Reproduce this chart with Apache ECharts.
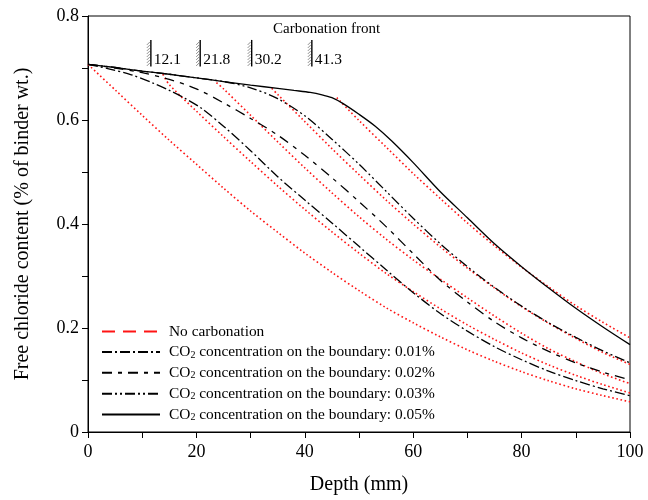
<!DOCTYPE html>
<html>
<head>
<meta charset="utf-8">
<script src="https://cdn.jsdelivr.net/npm/echarts@6/dist/echarts.min.js"></script>
<style>html,body{margin:0;padding:0;background:#fff}#c{width:648px;height:500px}</style>
</head>
<body>
<div id="c"></div>
<script>
// ---- data ----
const legendNames = ['No carbonation',
  'CO2 concentration on the boundary: 0.01%',
  'CO2 concentration on the boundary: 0.02%',
  'CO2 concentration on the boundary: 0.03%',
  'CO2 concentration on the boundary: 0.05%'];
const frontDepth = [11.6, 20.7, 30.2, 41.3];        // where the markers sit on the depth axis
const frontLabels = ['12.1', '21.8', '30.2', '41.3'];
const frontTitle = 'Carbonation front';
const xTicks = [0, 20, 40, 60, 80, 100];
const yTicks = [0, 0.2, 0.4, 0.6, 0.8];

// no-carbonation (red dotted) profiles
const r0X = [0,5,10,15,20,25,30,35,40,45,50,55,60,65,70,75,80,85,90,95,100];
const r0Y = [0.707,0.658,0.609,0.561,0.515,0.469,0.425,0.384,0.344,0.307,0.272,0.239,0.210,0.183,0.158,0.136,0.116,0.0985,0.083,0.070,0.058];
const r1X = [13.8,15,20,25,30,35,40,45,50,55,60,65,70,75,80,85,90,95,100];
const r1Y = [0.688,0.668,0.617,0.568,0.520,0.473,0.428,0.385,0.344,0.305,0.270,0.237,0.206,0.178,0.152,0.129,0.109,0.091,0.075];
const r2X = [23.7,25,30,35,40,45,50,55,60,65,70,75,80,85,90,95,100];
const r2Y = [0.672,0.660,0.609,0.558,0.508,0.460,0.414,0.371,0.331,0.294,0.258,0.223,0.190,0.160,0.135,0.112,0.093];
const r3X = [33.9,35,40,45,50,55,60,65,70,75,80,85,90,95,100];
const r3Y = [0.661,0.649,0.597,0.545,0.495,0.446,0.400,0.356,0.315,0.277,0.241,0.209,0.180,0.153,0.130];
const r4X = [45.9,50,55,60,65,70,75,80,85,90,95,100];
const r4Y = [0.643,0.599,0.548,0.497,0.449,0.402,0.358,0.317,0.279,0.243,0.211,0.181];

// carbonation profiles (black)
const b1X = [0,4,8,12,15,18,21,25,30,35,40,45,50,55,60,65,70,75,80,85,90,95,100];
const b1Y = [0.707,0.698,0.687,0.671,0.657,0.641,0.622,0.588,0.541,0.491,0.446,0.402,0.357,0.312,0.268,0.228,0.194,0.164,0.139,0.117,0.099,0.083,0.070];
const b2X = [0,5,10,15,20,25,30,35,40,45,50,55,60,65,70,75,80,85,90,95,100];
const b2Y = [0.707,0.700,0.691,0.678,0.660,0.633,0.603,0.571,0.532,0.489,0.443,0.395,0.343,0.292,0.250,0.212,0.181,0.155,0.133,0.115,0.100];
const b3X = [0,5,10,15,20,25,30,35,40,45,50,55,60,65,70,75,80,85,90,95,100];
const b3Y = [0.707,0.701,0.694,0.688,0.681,0.674,0.662,0.641,0.608,0.563,0.515,0.463,0.411,0.362,0.318,0.278,0.242,0.210,0.182,0.156,0.133];
const b4X = [0,5,10,15,20,25,30,35,38,41,43,45,47,50,53,56,60,65,70,75,80,85,90,95,100];
const b4Y = [0.707,0.701,0.694,0.688,0.681,0.674,0.667,0.661,0.657,0.653,0.649,0.643,0.632,0.611,0.588,0.560,0.518,0.462,0.412,0.362,0.318,0.277,0.238,0.202,0.168];

// ---- chart ----
const FONT = '"Liberation Serif", "Times New Roman", serif';
const pairs = (xs, ys) => xs.map((x, i) => [x, ys[i]]);
const RED = '#ff1414';
const redStyle = {color: RED, width: 1.6, type: [1.6, 2.6]};

function redSeries(name, xs, ys) {
  return {name, type: 'line', data: pairs(xs, ys), showSymbol: false, symbol: 'none',
    smooth: 0.3, lineStyle: redStyle, itemStyle: {color: RED}, z: 3, silent: true};
}
function blackSeries(name, xs, ys, dash) {
  return {name, type: 'line', data: pairs(xs, ys), showSymbol: false, symbol: 'none',
    smooth: 0.3, lineStyle: {color: '#000', width: 1.3, type: dash}, itemStyle: {color: '#000'}, z: 4, silent: true};
}

const chart = echarts.init(document.getElementById('c'), null, {renderer: 'canvas'});
chart.setOption({
  animation: false,
  backgroundColor: '#fff',
  grid: {left: 88, right: 18, top: 16, bottom: 67, show: true, borderColor: '#000', borderWidth: 1},
  xAxis: {
    type: 'value', min: 0, max: 100, interval: 10,
    name: 'Depth (mm)', nameLocation: 'middle', nameGap: 43,
    nameTextStyle: {fontFamily: FONT, fontSize: 20, color: '#000'},
    axisLine: {show: true, lineStyle: {color: '#000', width: 1}},
    axisTick: {show: true, length: 6, lineStyle: {color: '#000'}},
    axisLabel: {margin: 11, fontFamily: FONT, fontSize: 18, color: '#000',
      formatter: v => xTicks.includes(v) ? String(v) : ''},
    splitLine: {show: false}
  },
  yAxis: {
    type: 'value', min: 0, max: 0.8, interval: 0.1,
    name: 'Free chloride content (% of binder wt.)', nameLocation: 'middle', nameGap: 55,
    nameTextStyle: {fontFamily: FONT, fontSize: 20, color: '#000'},
    axisLine: {show: true, lineStyle: {color: '#000', width: 1}},
    axisTick: {show: true, length: 6, lineStyle: {color: '#000'}},
    axisLabel: {margin: 9, fontFamily: FONT, fontSize: 18, color: '#000',
      formatter: v => { const r = Math.round(v * 10) / 10; return yTicks.some(t => Math.abs(t - r) < 1e-9) ? String(r) : ''; }},
    splitLine: {show: false}
  },
  legend: {
    data: legendNames, orient: 'vertical', left: 96, top: 319,
    itemWidth: 58, itemHeight: 14, itemGap: 5.4, selectedMode: false,
    itemStyle: {opacity: 0, borderWidth: 0},
    textStyle: {fontFamily: FONT, fontSize: 15.4, color: '#000', padding: [0, 0, 0, 4],
      rich: {a: {fontFamily: FONT, fontSize: 15.4, color: '#000'},
             s: {fontFamily: FONT, fontSize: 10, color: '#000', padding: [6, 0, 0, 0]}}},
    formatter: n => n.startsWith('CO2') ? '{a|CO}{s|2}{a|' + n.slice(3) + '}' : '{a|' + n + '}'
  },
  graphic: [{type: 'text', left: 273, top: 22,
    style: {text: frontTitle, font: '15px ' + FONT, fill: '#000'}}],
  series: [
    {name: legendNames[0], type: 'line', data: [], symbol: 'none',
     lineStyle: {color: RED, width: 1.6, type: [13, 8]}, itemStyle: {color: RED}},
    redSeries('nc0', r0X, r0Y), redSeries('nc1', r1X, r1Y), redSeries('nc2', r2X, r2Y),
    redSeries('nc3', r3X, r3Y), redSeries('nc4', r4X, r4Y),
    blackSeries(legendNames[1], b1X, b1Y, [10, 3, 2, 3]),
    blackSeries(legendNames[2], b2X, b2Y, [10, 6, 4, 6]),
    blackSeries(legendNames[3], b3X, b3Y, [10, 3, 2, 3, 2, 3]),
    blackSeries(legendNames[4], b4X, b4Y, 'solid'),
    {name: 'fronts', type: 'custom', clip: false, silent: true, z: 6,
     data: frontDepth.map((f, i) => [f, i]),
     renderItem: (params, api) => {
       const x = api.value(0);
       const label = frontLabels[api.value(1)];
       const top = api.coord([x, 0.754]);
       const bot = api.coord([x, 0.703]);
       const ch = [{type: 'line', shape: {x1: top[0], y1: top[1], x2: bot[0], y2: bot[1]},
                    style: {stroke: '#000', lineWidth: 1.4}}];
       for (let y = top[1] + 2; y < bot[1] - 1; y += 3) {
         ch.push({type: 'line', shape: {x1: top[0] - 4, y1: y + 3, x2: top[0] - 1, y2: y},
                  style: {stroke: '#808080', lineWidth: 0.9}});
       }
       ch.push({type: 'text', style: {text: label, x: top[0] + 3, y: bot[1] + 1,
                verticalAlign: 'bottom', align: 'left', font: '15.5px ' + FONT, fill: '#000'}});
       return {type: 'group', children: ch};
     }}
  ]
});
</script>
</body>
</html>
